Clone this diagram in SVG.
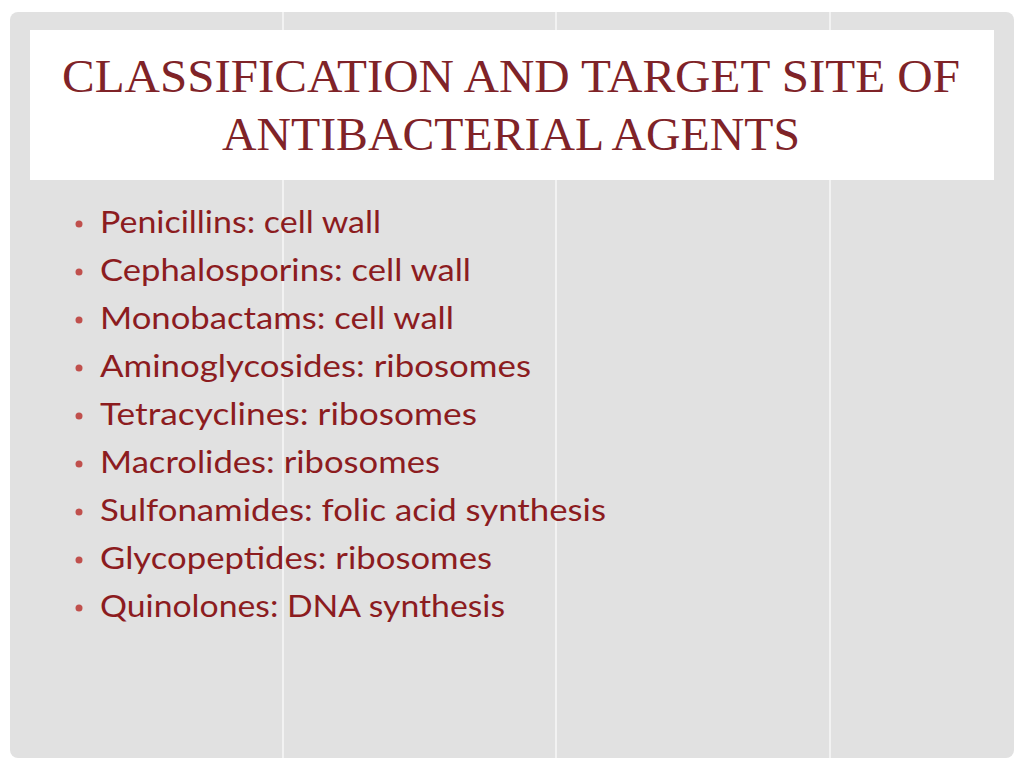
<svg xmlns="http://www.w3.org/2000/svg" width="1024" height="768" viewBox="0 0 1024 768">
<style>
.t{font-family:"Liberation Serif",serif;font-size:46px;fill:#7f2328;text-anchor:middle}
.b{font-family:"Lato","Open Sans",sans-serif;font-size:30px;fill:#8c1c1f}
.d{fill:#c0504d}
.v{stroke:#f2f2f2;stroke-width:2}
</style>
<rect width="1024" height="768" fill="#ffffff"/>
<rect x="10" y="12" width="1004" height="746" rx="8" fill="#e1e1e1"/>
<line class="v" x1="283" y1="12" x2="283" y2="758"/>
<line class="v" x1="556" y1="12" x2="556" y2="758"/>
<line class="v" x1="830" y1="12" x2="830" y2="758"/>
<g id="title">
<rect x="30" y="30" width="964" height="150" fill="#ffffff"/>
<text class="t" x="511" y="92" textLength="898" lengthAdjust="spacingAndGlyphs">CLASSIFICATION AND TARGET SITE OF</text>
<text class="t" x="511" y="150" textLength="578" lengthAdjust="spacingAndGlyphs">ANTIBACTERIAL AGENTS</text>
</g>
<g id="list">
<circle class="d" cx="79" cy="224" r="3.5"/><text class="b" x="100" y="233" textLength="281" lengthAdjust="spacingAndGlyphs">Penicillins: cell wall</text>
<circle class="d" cx="79" cy="272" r="3.5"/><text class="b" x="100" y="281" textLength="371" lengthAdjust="spacingAndGlyphs">Cephalosporins: cell wall</text>
<circle class="d" cx="79" cy="320" r="3.5"/><text class="b" x="100" y="329" textLength="354" lengthAdjust="spacingAndGlyphs">Monobactams: cell wall</text>
<circle class="d" cx="79" cy="368" r="3.5"/><text class="b" x="100" y="377" textLength="431" lengthAdjust="spacingAndGlyphs">Aminoglycosides: ribosomes</text>
<circle class="d" cx="79" cy="416" r="3.5"/><text class="b" x="100" y="425" textLength="377" lengthAdjust="spacingAndGlyphs">Tetracyclines: ribosomes</text>
<circle class="d" cx="79" cy="464" r="3.5"/><text class="b" x="100" y="473" textLength="340" lengthAdjust="spacingAndGlyphs">Macrolides: ribosomes</text>
<circle class="d" cx="79" cy="512" r="3.5"/><text class="b" x="100" y="521" textLength="506" lengthAdjust="spacingAndGlyphs">Sulfonamides: folic acid synthesis</text>
<circle class="d" cx="79" cy="560" r="3.5"/><text class="b" x="100" y="569" textLength="392" lengthAdjust="spacingAndGlyphs">Glycopeptides: ribosomes</text>
<circle class="d" cx="79" cy="608" r="3.5"/><text class="b" x="100" y="617" textLength="405" lengthAdjust="spacingAndGlyphs">Quinolones: DNA synthesis</text>
</g>
</svg>
